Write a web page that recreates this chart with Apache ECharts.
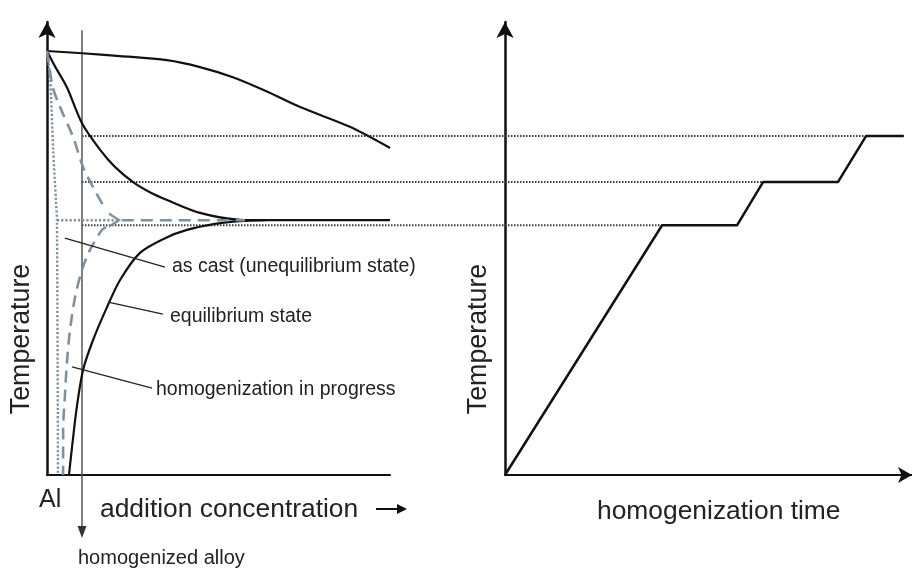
<!DOCTYPE html>
<html><head><meta charset="utf-8">
<script src="https://cdn.jsdelivr.net/npm/echarts@6/dist/echarts.min.js"></script>
<style>html,body{margin:0;padding:0;background:#fff}#c{width:912px;height:570px}</style>
</head><body><div id="c"></div>
<script>
// ---- data (left panel: concentration 0..100, temperature 0..98.5) ----
const LIQUIDUS = [[0,92.2],[10.2,91.7],[21.3,91.1],[35,90.2],[44.6,88.7],[54.2,86.5],[63.8,83.5],[73.8,80.0],[88.3,75.7],[100,71.1]];
const EQ_UPPER = [[0,92.2],[2.3,88.9],[5.8,84.3],[10.2,76.5],[15.5,70.7],[19.8,67.0],[25.1,63.7],[30.0,61.5],[35,59.8],[44.6,57.0],[56.3,55.5],[65,55.4]];
const EQ_PLATEAU = [[65,55.4],[100,55.4]];
const EQ_LOWER = [[6.4,0],[7.3,6.1],[8.7,14.8],[10.5,22.8],[13.4,29.3],[17.5,36.5],[21.3,42.4],[27.1,48.3],[34.4,51.5],[40.8,53.3],[49.0,54.6],[56.3,55.2],[63.6,55.4]];
const HOMOG_UPPER = [[0,92.2],[1.7,84.3],[3.8,80.0],[7.6,73.5],[10.5,67.0],[13.4,62.6],[16.3,58.7]];
const HOMOG_PLATEAU = [[21.8,55.4],[57.7,55.4]];
const HOMOG_LOWER = [[17.2,53.9],[16.0,53.3],[12.5,48.9],[10.2,44.6],[8.2,38.7],[6.7,31.5],[5.8,24.3],[5.2,17.0],[4.7,9.8],[4.7,0]];
const AS_CAST = [[0,92.2],[0.9,86.5],[1.8,70.7],[2.6,59.8],[2.9,55.4],[3.2,0]];
const AS_CAST_ARROW = [[2.9,55.4],[20.7,55.4]];
const HOMOG_ALLOY_C = 10.2;
const HOMOG_ALLOY_T = [96.7, -12.4];
const LEADER_AS_CAST = [[5.2,51.5],[34.4,45.2]];
const LEADER_EQ = [[17.8,37.6],[33.8,35.0]];
const LEADER_HOMOG = [[7.3,23.5],[30.6,18.9]];
// ---- right panel: homogenization time 0..100 ----
const STEP_TIME = [0, 38.6, 57.0, 63.4, 81.8, 88.7, 98.0];
const STEP_TEMP = [0, 54.3, 54.3, 63.7, 63.7, 73.7, 73.7];
const GUIDE_TEMP = [73.7, 63.7, 54.3];
const GUIDE_END_TIME = [88.7, 63.4, 38.6];
const LABELS = {
  asCast: 'as cast (unequilibrium state)',
  eq: 'equilibrium state',
  homog: 'homogenization in progress',
  al: 'Al',
  xLeft: 'addition concentration',
  alloy: 'homogenized alloy',
  yName: 'Temperature',
  xRight: 'homogenization time'
};

const FONT = '"Liberation Sans", Arial, sans-serif';
const BLACK = '#111';
const GRAYD = '#7f90a0';
const chart = echarts.init(document.getElementById('c'), null, {renderer:'canvas'});

function axisX(grid, arrow){
  return {type:'value', gridIndex:grid, min:0, max:100, axisTick:{show:false}, axisLabel:{show:false}, splitLine:{show:false},
    axisLine:{show:true, onZero:false, symbol: arrow?['none','arrow']:'none', symbolSize:[12,14], lineStyle:{color:BLACK,width:2.2}}};
}
function axisY(grid){
  return {type:'value', gridIndex:grid, min:0, max:98.5, axisTick:{show:false}, axisLabel:{show:false}, splitLine:{show:false},
    axisLine:{show:true, onZero:false, symbol:['none','arrow'], symbolSize:[13,16], lineStyle:{color:BLACK,width:2.5}}};
}
function line(id, grid, data, style, extra){
  return Object.assign({id, type:'line', xAxisIndex:grid, yAxisIndex:grid, data, symbol:'none', silent:true,
    animation:false, lineStyle:style, z:3}, extra||{});
}
const DASH = {color:GRAYD,width:2.6,type:[12,7]};
const DOT = {color:GRAYD,width:2.4,type:[2.2,2]};

const series = [
  line('liq',0,LIQUIDUS,{color:BLACK,width:2.2},{smooth:0.3}),
  line('equ',0,EQ_UPPER,{color:BLACK,width:2.2},{smooth:0.3}),
  line('eqp',0,EQ_PLATEAU,{color:BLACK,width:2.2}),
  line('eql',0,EQ_LOWER,{color:BLACK,width:2.2},{smooth:0.3}),
  line('hu',0,HOMOG_UPPER,DASH,{smooth:0.3}),
  line('hp',0,HOMOG_PLATEAU,DASH),
  line('hl',0,HOMOG_LOWER,DASH,{smooth:0.3}),
  line('ac',0,AS_CAST,DOT,{smooth:0.3}),
  line('aca',0,[AS_CAST_ARROW[0],{value:AS_CAST_ARROW[1],symbol:'path://M0,0L10,5L0,10',symbolSize:[10,13],symbolOffset:[-4,0],
      itemStyle:{color:'rgba(0,0,0,0)',borderColor:GRAYD,borderWidth:2.2}}],DOT),
  line('alloy',0,[[HOMOG_ALLOY_C,HOMOG_ALLOY_T[0]],{value:[HOMOG_ALLOY_C,HOMOG_ALLOY_T[1]],symbol:'triangle',symbolRotate:180,symbolSize:[9,12],itemStyle:{color:'#333'}}],
      {color:'#555',width:1.5},{clip:false,z:2}),
  line('l1',0,LEADER_AS_CAST,{color:'#222',width:1.3}),
  line('l2',0,LEADER_EQ,{color:'#222',width:1.3}),
  line('l3',0,LEADER_HOMOG,{color:'#222',width:1.3}),
  line('step',1,STEP_TIME.map((t,i)=>[t,STEP_TEMP[i]]),{color:BLACK,width:2.5}),
];

function txt(text,x,y,size){
  return {type:'text',x,y,silent:true,z:10,style:{text,font:size+'px '+FONT,fill:'#222',align:'left',verticalAlign:'middle'}};
}
function vtxt(text,x,y,size){
  return {type:'text',x,y,rotation:Math.PI/2,silent:true,z:10,style:{text,font:size+'px '+FONT,fill:'#222',align:'center',verticalAlign:'middle'}};
}
const hidden = (grid,max)=>({type:'value',gridIndex:grid,min:0,max,show:false});

chart.setOption({
  animation:false,
  grid:[{left:47,top:22,width:343,height:453},{left:505,top:22,width:407,height:453},{left:47,top:22,right:0,height:453}],
  xAxis:[axisX(0,false),axisX(1,true),hidden(2,1)],
  yAxis:[axisY(0),axisY(1),hidden(2,98.5)],
  series,
  graphic:[
    txt(LABELS.asCast,172,267,19.5),
    txt(LABELS.eq,170,317,19.5),
    txt(LABELS.homog,156,390,19.5),
    txt(LABELS.al,39,500,25),
    txt(LABELS.xLeft,100,510,26.4),
    txt(LABELS.alloy,78,558,20),
    txt(LABELS.xRight,597,512,26.4),
    vtxt(LABELS.yName,22,339,26.8),
    vtxt(LABELS.yName,479,339,26.8),
    {type:'line',silent:true,shape:{x1:376,y1:509,x2:399,y2:509},style:{stroke:'#111',lineWidth:2}},
    {type:'polygon',silent:true,shape:{points:[[397,504],[407,509],[397,514]]},style:{fill:'#111'}}
  ]
});

// Guide lines: from the homogenized-alloy line (left panel) to the step corners (right panel),
// drawn in an overlay grid whose left edge is placed at the homogenized-alloy line.
const startPx = chart.convertToPixel({gridIndex:0},[HOMOG_ALLOY_C,0])[0];
chart.setOption({grid:[{},{},{left:startPx,top:22,right:0,height:453}]});
const o0 = chart.convertToPixel({gridIndex:2},[0,0])[0];
const o1 = chart.convertToPixel({gridIndex:2},[1,0])[0];
chart.setOption({series: GUIDE_TEMP.map((t,i)=>{
  const endPx = chart.convertToPixel({gridIndex:1},[GUIDE_END_TIME[i],t])[0];
  return line('guide'+i,2,[[0,t],[(endPx-o0)/(o1-o0),t]],{color:'#3a3a3a',width:2,type:[1.5,1.5]},{z:1});
})});
</script></body></html>
